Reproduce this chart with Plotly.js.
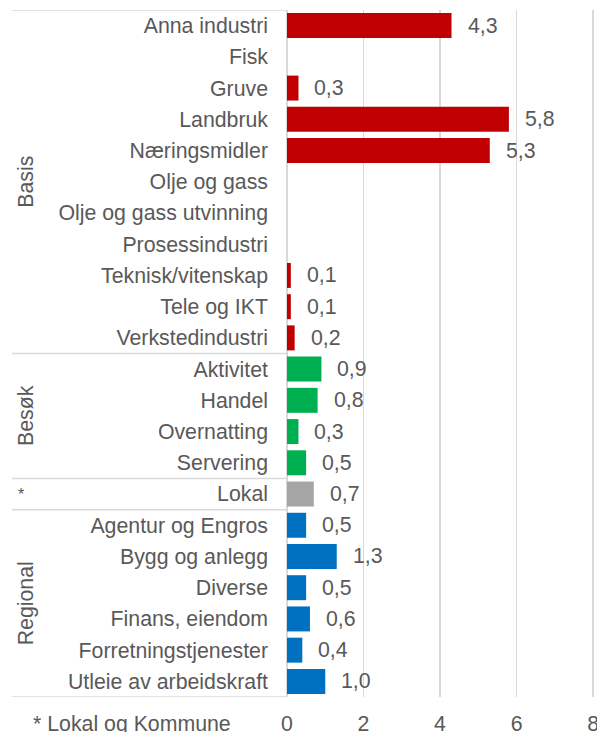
<!DOCTYPE html>
<html><head><meta charset="utf-8">
<script src="https://cdn.plot.ly/plotly-3.0.1.min.js"></script>
<style>html,body{margin:0;padding:0;background:#fff;}#chart{width:597px;height:732px;}</style>
</head><body><div id="chart"></div>
<script>
// Data
const categories = ["Anna industri","Fisk","Gruve","Landbruk","Næringsmidler","Olje og gass","Olje og gass utvinning","Prosessindustri","Teknisk/vitenskap","Tele og IKT","Verkstedindustri","Aktivitet","Handel","Overnatting","Servering","Lokal","Agentur og Engros","Bygg og anlegg","Diverse","Finans, eiendom","Forretningstjenester","Utleie av arbeidskraft"];
const values = [4.3,null,0.3,5.8,5.3,null,null,null,0.1,0.1,0.2,0.9,0.8,0.3,0.5,0.7,0.5,1.3,0.5,0.6,0.4,1.0];
const groups = ["Basis","Basis","Basis","Basis","Basis","Basis","Basis","Basis","Basis","Basis","Basis","Besøk","Besøk","Besøk","Besøk","*","Regional","Regional","Regional","Regional","Regional","Regional"];
const groupNames = ["Basis","Besøk","*","Regional"];
const groupColors = {"Basis":"#C00000","Besøk":"#00B050","*":"#A5A5A5","Regional":"#0070C0"};
const xTicks = [0,2,4,6,8];
const footnote = "* Lokal og Kommune";

// Layout constants
const W = 597, H = 732, ML = 287, MR = 2, MT = 10, MB = 35;
const PW = W - ML - MR;
const px2paper = p => (p - ML) / PW;
const FONT = "Liberation Sans, Arial, sans-serif";
const FS = 21.3;
const TXT = "#595959";
const GRID = "#D9D9D9";

const fmt = v => v.toFixed(1).replace('.', ',');

const traces = groupNames.map(g => {
  const ys = [], xs = [];
  categories.forEach((c, i) => { if (groups[i] === g) { ys.push(c); xs.push(values[i]); } });
  return {type:'bar', orientation:'h', y:ys, x:xs, marker:{color:groupColors[g]}, hoverinfo:'none', showlegend:false};
});

const annotations = [];
categories.forEach((c, i) => {
  if (values[i] !== null) {
    annotations.push({x:values[i], y:c, xref:'x', yref:'y', text:fmt(values[i]), showarrow:false,
      xanchor:'left', yanchor:'middle', xshift:14, font:{family:FONT, size:FS, color:TXT}});
  }
});

const shapes = [];
const bounds = [-0.5];
groupNames.forEach(g => { bounds.push(groups.lastIndexOf(g) + 0.5); });
bounds.forEach(b => {
  shapes.push({type:'line', xref:'paper', yref:'y', x0:px2paper(12), x1:0, y0:b, y1:b,
    line:{color:GRID, width:1.5}});
});
groupNames.forEach(g => {
  const first = groups.indexOf(g), last = groups.lastIndexOf(g);
  const mid = (first + last) / 2;
  if (g === "*") {
    annotations.push({xref:'paper', yref:'y', x:px2paper(21), y:mid, text:g, showarrow:false,
      xanchor:'center', yanchor:'middle', font:{family:FONT, size:16, color:TXT}});
  } else {
    annotations.push({xref:'paper', yref:'y', x:px2paper(26), y:mid, text:g, showarrow:false, textangle:-90,
      xanchor:'center', yanchor:'middle', font:{family:FONT, size:FS, color:TXT}});
  }
});
annotations.push({xref:'paper', yref:'paper', x:px2paper(31), y:-(724 - (H - MB)) / (H - MT - MB), text:footnote,
  showarrow:false, xanchor:'left', yanchor:'middle', font:{family:FONT, size:FS, color:TXT}});

const layout = {
  width:W, height:H,
  margin:{l:ML, r:MR, t:MT, b:MB, pad:0},
  paper_bgcolor:'#fff', plot_bgcolor:'#fff',
  bargap:0.2, barmode:'overlay',
  font:{family:FONT, size:FS, color:TXT},
  xaxis:{range:[0,8.05], tickvals:xTicks, ticktext:xTicks.map(String), showgrid:true, gridcolor:GRID, gridwidth:1.5,
    zeroline:true, zerolinecolor:GRID, zerolinewidth:1.5, showline:false, ticks:'', ticklabelstandoff:12,
    ticklabeloverflow:'allow',
    tickfont:{family:FONT, size:FS, color:TXT}, fixedrange:true},
  yaxis:{type:'category', categoryorder:'array', categoryarray:categories, range:[categories.length-0.5, -0.5],
    showgrid:false, zeroline:false, showline:false, ticks:'', ticklabelstandoff:18,
    tickfont:{family:FONT, size:FS, color:TXT}, fixedrange:true},
  shapes:shapes, annotations:annotations
};

Plotly.newPlot('chart', traces, layout, {displayModeBar:false, staticPlot:true});
</script></body></html>
